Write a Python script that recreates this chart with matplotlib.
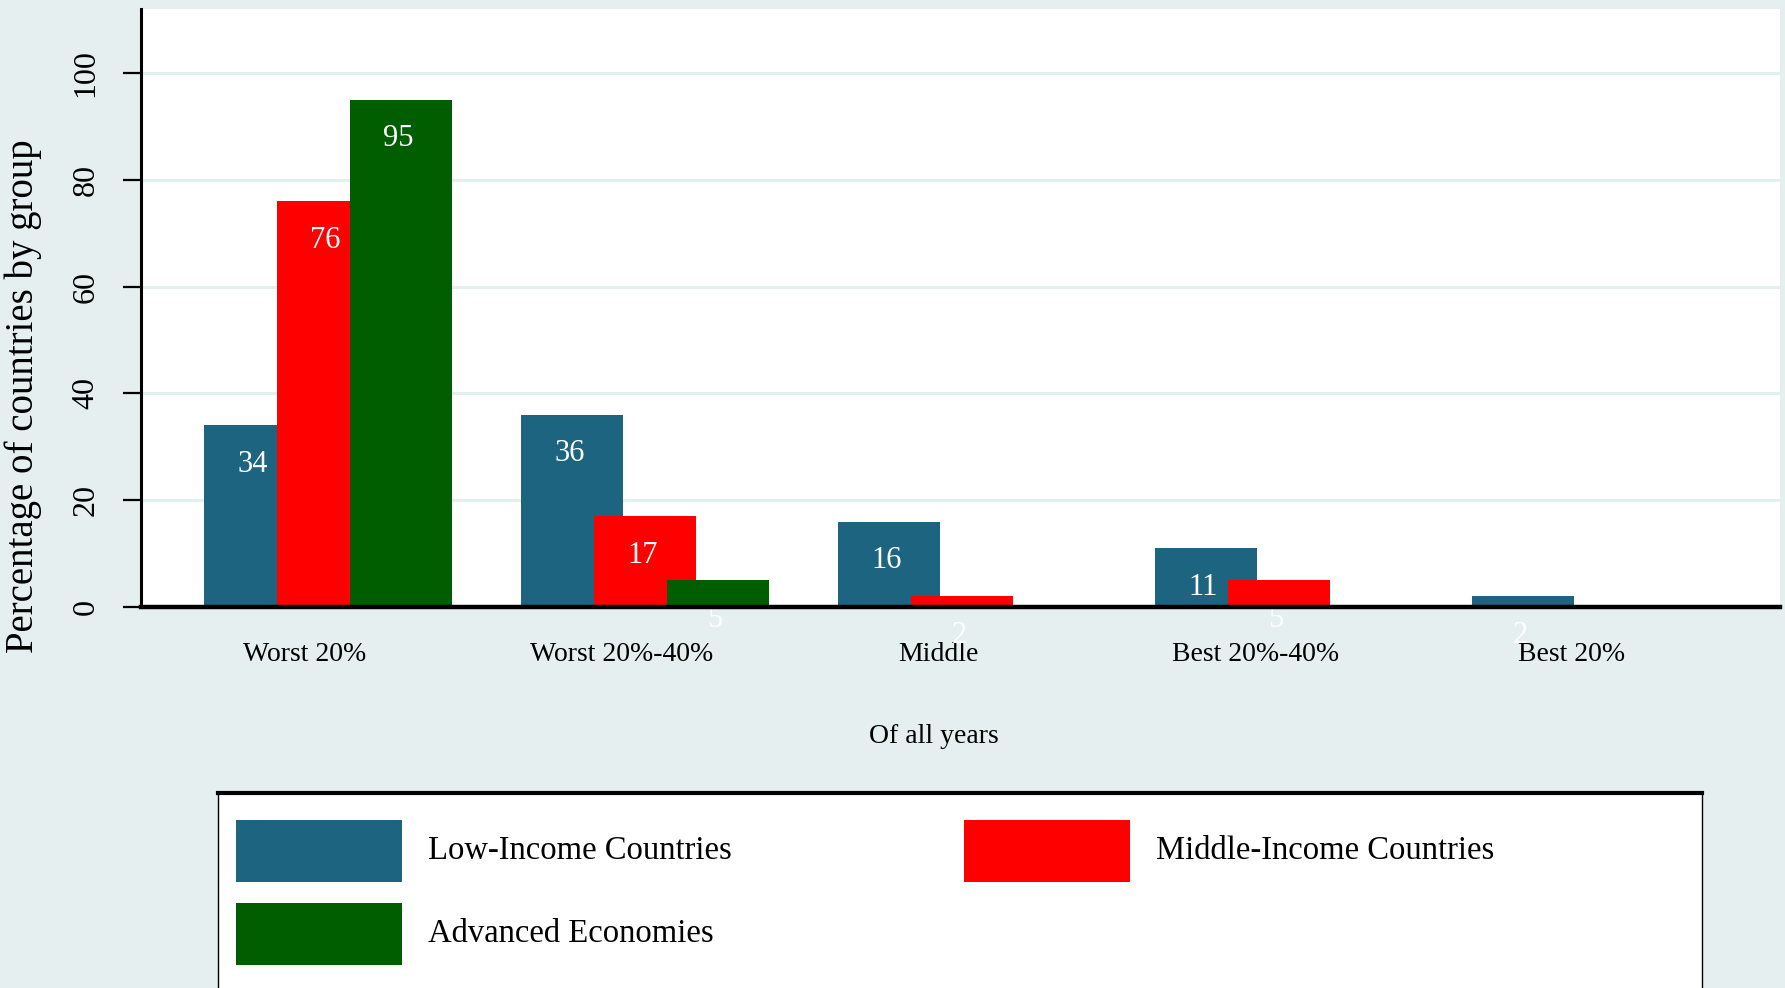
import numpy as np
import matplotlib
matplotlib.use("Agg")
import matplotlib.pyplot as plt
from matplotlib.patches import Rectangle
from matplotlib.lines import Line2D

plt.rcParams["font.family"] = ["Liberation Serif", "DejaVu Serif"]

BG = "#e5eff0"
GRID = "#e3eef0"
C_LOW = "#1c6480"
C_MID = "#ff0000"
C_ADV = "#005e00"

categories = ["Worst 20%", "Worst 20%-40%", "Middle", "Best 20%-40%", "Best 20%"]
low_income = [34, 36, 16, 11, 2]
middle_income = [76, 17, 2, 5, 0]
advanced = [95, 5, 0, 0, 0]
series_names = ["Low-Income Countries", "Middle-Income Countries", "Advanced Economies"]
yticks = [0, 20, 40, 60, 80, 100]

fig = plt.figure(figsize=(17.85, 9.88), dpi=100, facecolor=BG)
ax = fig.add_axes([0.079, 0.3857, 0.918, 0.6052])
ax.set_facecolor("white")

x = np.arange(len(categories))
w = 0.324
step = 0.23
series = [(low_income, C_LOW), (middle_income, C_MID), (advanced, C_ADV)]
for i, (vals, col) in enumerate(series):
    xs = x + (i - 1) * step
    ax.bar(xs, vals, w, color=col, zorder=2 + i, linewidth=0)
    for xi, v in zip(xs, vals):
        if v > 0:
            # value labels sit inside the bar top; small ones end up under the axis
            ax.annotate(f"{v}", xy=(xi, v), xytext=(-2, -28), textcoords="offset points",
                        ha="center", va="center", color="white", fontsize=22,
                        zorder=10, annotation_clip=False)

ax.set_xlim(-0.59, 4.58)
ax.set_ylim(0, 112)
ax.set_yticks(yticks)
ax.set_yticklabels([str(t) for t in yticks], rotation=90, va="center", fontsize=23)
ax.tick_params(axis="y", length=13, width=1.6, pad=16, direction="out")
ax.set_xticks(x - 0.075)
ax.set_xticklabels(categories, fontsize=20)
ax.tick_params(axis="x", length=0, pad=25)

ax.yaxis.grid(True, color=GRID, lw=2.2)
ax.set_axisbelow(True)
for s in ["top", "right"]:
    ax.spines[s].set_visible(False)
ax.spines["left"].set_linewidth(2.2)
ax.spines["bottom"].set_linewidth(3.2)
ax.spines["bottom"].set_zorder(20)

fig.text(0.0128, 0.599, "Percentage of countries by group", rotation=90,
         ha="center", va="center", fontsize=28)
fig.text(0.523, 0.2545, "Of all years", ha="center", va="center", fontsize=20)

# legend box drawn in figure coords
fig.patches.append(Rectangle((0.1221, -0.02), 0.8314, 0.2174, transform=fig.transFigure,
                             facecolor="white", edgecolor="black", lw=1.0, zorder=1))
fig.lines.append(Line2D([0.1221, 0.9535], [0.1974, 0.1974], transform=fig.transFigure,
                        color="black", lw=3, zorder=2))
entries = [(0.132, 0.107, C_LOW, series_names[0]),
           (0.540, 0.107, C_MID, series_names[1]),
           (0.132, 0.0229, C_ADV, series_names[2])]
for lx, ly, col, name in entries:
    fig.patches.append(Rectangle((lx, ly), 0.0932, 0.0635, transform=fig.transFigure,
                                 facecolor=col, edgecolor="none", zorder=3))
    fig.text(lx + 0.1078, ly + 0.0317, name, ha="left", va="center", fontsize=23.5)

fig.savefig("out.png", dpi=100, facecolor=BG)
